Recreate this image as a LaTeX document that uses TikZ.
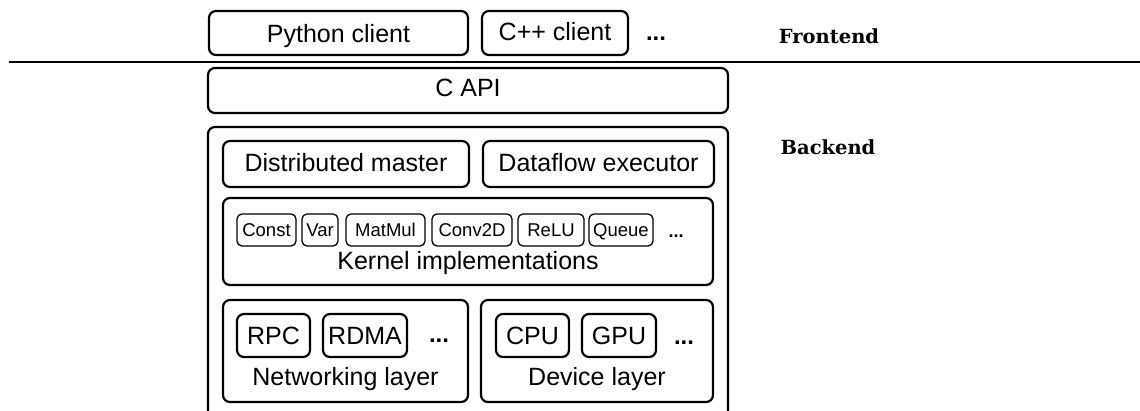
\documentclass[tikz,border=0pt]{standalone}
\usepackage{fontspec}
\setmainfont{Liberation Sans}
\newfontfamily\tierfont{DejaVu Serif}
\begin{document}
\begin{tikzpicture}[x=1pt,y=-1pt,
  box/.style={draw, line width=2.2pt, rounded corners=7pt, inner sep=0pt,
    text height=18pt, text depth=0pt, font=\fontsize{25}{30}\selectfont},
  frame/.style={draw, line width=2.2pt, rounded corners=7pt, inner sep=0pt},
  op/.style={draw, line width=1.3pt, rounded corners=5pt, inner sep=0pt,
    text height=13.2pt, text depth=0pt, font=\fontsize{18.5}{22}\selectfont},
  caption/.style={anchor=base, inner sep=0pt, font=\fontsize{25}{30}\selectfont},
  dots/.style={anchor=base, inner sep=0pt, font=\bfseries\fontsize{24}{30}\selectfont},
  smalldots/.style={anchor=base, inner sep=0pt, font=\bfseries\fontsize{18}{22}\selectfont},
  tier/.style={anchor=base, inner sep=0pt, font=\tierfont\bfseries\fontsize{19.5}{23}\selectfont}
]
\clip (0,0) rectangle (1140,410);
\fill[white] (0,0) rectangle (1140,410);

% frontend clients
\node[box, minimum width=259pt, minimum height=44pt] (python) at (338.5,33) {Python client};
\node[box, minimum width=146pt, minimum height=44pt, text depth=4pt] (cpp) at (555,33) {C++ client};
\node[dots] (fdots) at (656,40) {...};
\node[tier] (frontend) at (829,43) {Frontend};

% frontend / backend separator
\coordinate (sepL) at (9,62);
\coordinate (sepR) at (1140,62);
\draw[line width=1.6pt] (sepL) -- (sepR);

% C API
\node[box, minimum width=520pt, minimum height=45pt, text depth=6pt] (capi) at (468,90.5) {C API};

% backend container
\node[frame, minimum width=520pt, minimum height=313pt] (backend) at (468,283.5) {};
\node[tier] (backendlabel) at (828,154) {Backend};

% master and executor
\node[box, minimum width=246pt, minimum height=46pt, text depth=2.6pt] (master) at (346,164) {Distributed master};
\node[box, minimum width=231pt, minimum height=46pt, text depth=2.6pt] (executor) at (598.5,164) {Dataflow executor};

% kernels
\node[frame, minimum width=490pt, minimum height=87pt] (kernels) at (468,241.5) {};
\node[op, minimum width=59pt, minimum height=32pt] (const) at (266.5,230) {Const};
\node[op, minimum width=36pt, minimum height=32pt] (var) at (320,230) {Var};
\node[op, minimum width=79pt, minimum height=32pt] (matmul) at (385.5,230) {MatMul};
\node[op, minimum width=80pt, minimum height=32pt] (conv) at (472,230) {Conv2D};
\node[op, minimum width=66pt, minimum height=32pt] (relu) at (551,230) {ReLU};
\node[op, minimum width=64pt, minimum height=32pt] (queue) at (621,230) {Queue};
\node[smalldots] (kdots) at (676,237) {...};
\node[caption] (kernlabel) at (468,269) {Kernel implementations};

% networking layer
\node[frame, minimum width=245pt, minimum height=102pt] (network) at (345.5,351) {};
\node[box, minimum width=73pt, minimum height=43pt] (rpc) at (273.5,335.5) {RPC};
\node[box, minimum width=84pt, minimum height=43pt] (rdma) at (365,335.5) {RDMA};
\node[dots] (ndots) at (439,342) {...};
\node[caption] (netlabel) at (345.5,385) {Networking layer};

% device layer
\node[frame, minimum width=232pt, minimum height=102pt] (device) at (597,351) {};
\node[box, minimum width=73pt, minimum height=43pt] (cpu) at (532.5,335.5) {CPU};
\node[box, minimum width=74pt, minimum height=43pt] (gpu) at (619,335.5) {GPU};
\node[dots] (ddots) at (684,344) {...};
\node[caption] (devlabel) at (597,385) {Device layer};
\end{tikzpicture}
\end{document}
